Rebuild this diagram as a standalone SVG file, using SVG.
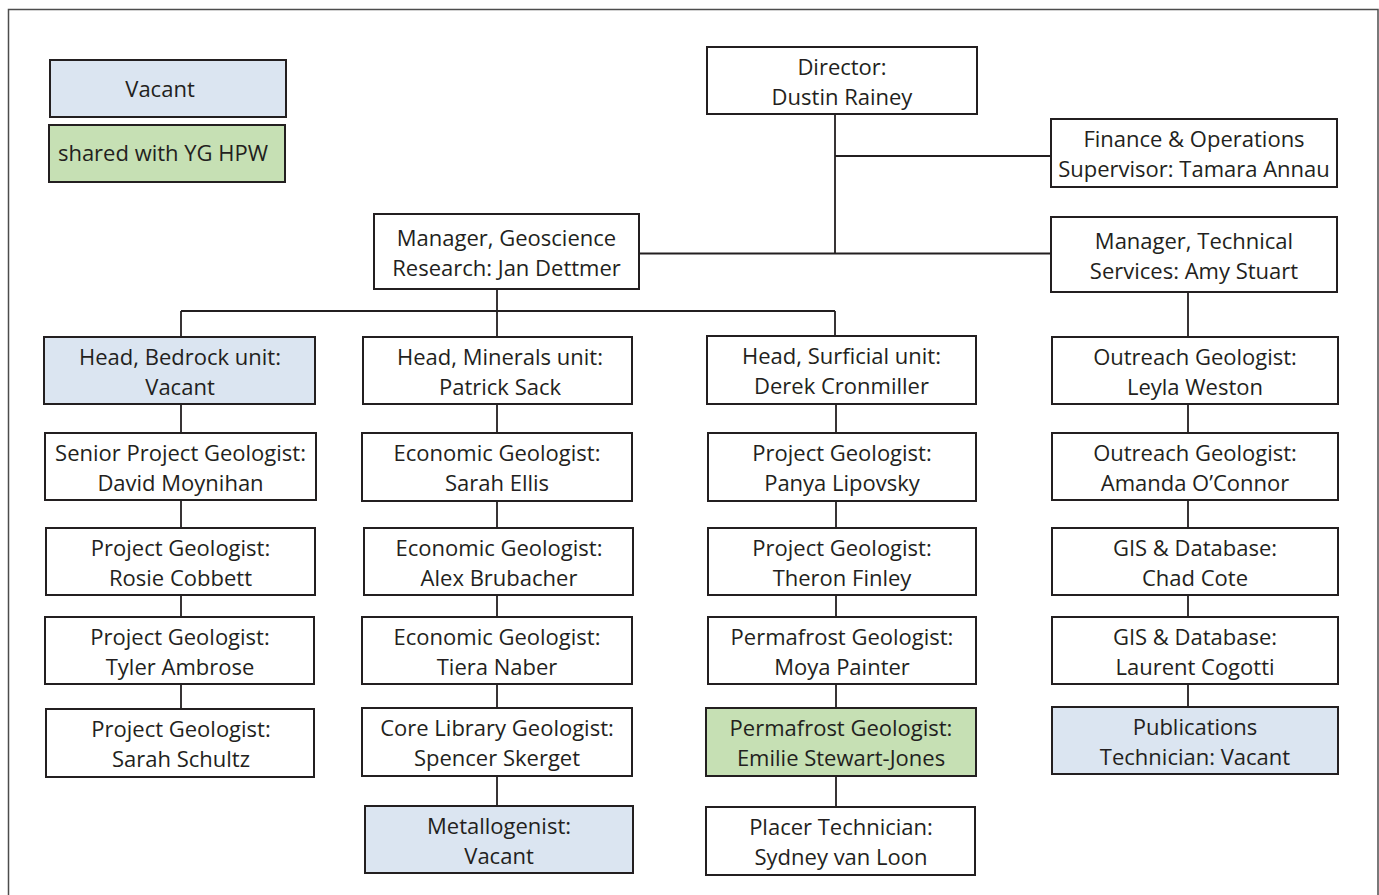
<svg xmlns="http://www.w3.org/2000/svg" width="1379" height="895" viewBox="0 0 1379 895">
<style>
.frame{fill:#ffffff;stroke:#4d4d4d;stroke-width:1.5}
.box{fill:#ffffff;stroke:#231f20;stroke-width:2}
.vac{fill:#dbe5f1;stroke:#231f20;stroke-width:2}
.shr{fill:#c6e0b4;stroke:#231f20;stroke-width:2}
.t{font-family:"Open Sans","Noto Sans","Liberation Sans",sans-serif;font-size:22px;fill:#231f20;text-anchor:middle}
.ln{fill:none;stroke:#231f20;stroke-width:1.8}
</style>
<rect class="frame" x="8.5" y="9.5" width="1369.5" height="900"/>
<g id="connectors">
<path class="ln" d="M835 114V254M835 156H1051M639 253.5H1051"/>
<path class="ln" d="M497 289V311M181 311H835M181 311V337M497 311V337M835 311V336"/>
<path class="ln" d="M181 404V433M181 500V528M181 595V617M181 684V709"/>
<path class="ln" d="M497 404V433M497 501V528M497 595V617M497 684V708M497 776V806"/>
<path class="ln" d="M836 404V433M836 501V528M836 595V617M836 684V708M836 776V807"/>
<path class="ln" d="M1188 292V337M1188 404V433M1188 500V528M1188 595V617M1188 684V707"/>
</g>
<g id="legend-vacant"><rect class="vac" x="50" y="60" width="236" height="57"/><text class="t" x="160" y="97">Vacant</text></g>
<g id="legend-shared"><rect class="shr" x="49" y="125" width="236" height="57"/><text class="t" x="163" y="161">shared with YG HPW</text></g>
<g id="director"><rect class="box" x="707" y="47" width="270" height="67"/><text class="t" x="842" y="74.5">Director:</text><text class="t" x="842" y="104.5">Dustin Rainey</text></g>
<g id="finance"><rect class="box" x="1051" y="119" width="286" height="68"/><text class="t" x="1194" y="147">Finance &amp; Operations</text><text class="t" x="1194" y="177">Supervisor: Tamara Annau</text></g>
<g id="mgr-technical"><rect class="box" x="1051" y="217" width="286" height="75"/><text class="t" x="1194" y="248.5">Manager, Technical</text><text class="t" x="1194" y="278.5">Services: Amy Stuart</text></g>
<g id="mgr-geoscience"><rect class="box" x="374" y="214" width="265" height="75"/><text class="t" x="506.5" y="245.5">Manager, Geoscience</text><text class="t" x="506.5" y="275.5">Research: Jan Dettmer</text></g>
<g id="head-bedrock"><rect class="vac" x="44" y="337" width="271" height="67"/><text class="t" x="180" y="364.5">Head, Bedrock unit:</text><text class="t" x="180" y="394.5">Vacant</text></g>
<g id="moynihan"><rect class="box" x="45" y="433" width="271" height="67"/><text class="t" x="180.5" y="460.5">Senior Project Geologist:</text><text class="t" x="180.5" y="490.5">David Moynihan</text></g>
<g id="cobbett"><rect class="box" x="46" y="528" width="269" height="67"/><text class="t" x="180.5" y="555.5">Project Geologist:</text><text class="t" x="180.5" y="585.5">Rosie Cobbett</text></g>
<g id="ambrose"><rect class="box" x="45" y="617" width="269" height="67"/><text class="t" x="180" y="644.5">Project Geologist:</text><text class="t" x="180" y="674.5">Tyler Ambrose</text></g>
<g id="schultz"><rect class="box" x="46" y="709" width="268" height="68"/><text class="t" x="181" y="737">Project Geologist:</text><text class="t" x="181" y="767">Sarah Schultz</text></g>
<g id="head-minerals"><rect class="box" x="363" y="337" width="269" height="67"/><text class="t" x="500" y="364.5">Head, Minerals unit:</text><text class="t" x="500" y="394.5">Patrick Sack</text></g>
<g id="ellis"><rect class="box" x="362" y="433" width="270" height="68"/><text class="t" x="497" y="461">Economic Geologist:</text><text class="t" x="497" y="491">Sarah Ellis</text></g>
<g id="brubacher"><rect class="box" x="364" y="528" width="269" height="67"/><text class="t" x="499" y="555.5">Economic Geologist:</text><text class="t" x="499" y="585.5">Alex Brubacher</text></g>
<g id="naber"><rect class="box" x="362" y="617" width="270" height="67"/><text class="t" x="497" y="644.5">Economic Geologist:</text><text class="t" x="497" y="674.5">Tiera Naber</text></g>
<g id="skerget"><rect class="box" x="362" y="708" width="270" height="68"/><text class="t" x="497" y="736">Core Library Geologist:</text><text class="t" x="497" y="766">Spencer Skerget</text></g>
<g id="metallogenist"><rect class="vac" x="365" y="806" width="268" height="67"/><text class="t" x="499" y="833.5">Metallogenist:</text><text class="t" x="499" y="863.5">Vacant</text></g>
<g id="head-surficial"><rect class="box" x="707" y="336" width="269" height="68"/><text class="t" x="841.5" y="364">Head, Surficial unit:</text><text class="t" x="841.5" y="394">Derek Cronmiller</text></g>
<g id="lipovsky"><rect class="box" x="708" y="433" width="268" height="68"/><text class="t" x="842" y="461">Project Geologist:</text><text class="t" x="842" y="491">Panya Lipovsky</text></g>
<g id="finley"><rect class="box" x="708" y="528" width="268" height="67"/><text class="t" x="842" y="555.5">Project Geologist:</text><text class="t" x="842" y="585.5">Theron Finley</text></g>
<g id="painter"><rect class="box" x="708" y="617" width="268" height="67"/><text class="t" x="842" y="644.5">Permafrost Geologist:</text><text class="t" x="842" y="674.5">Moya Painter</text></g>
<g id="stewart-jones"><rect class="shr" x="706" y="708" width="270" height="68"/><text class="t" x="841" y="736">Permafrost Geologist:</text><text class="t" x="841" y="766">Emilie Stewart-Jones</text></g>
<g id="van-loon"><rect class="box" x="706" y="807" width="269" height="68"/><text class="t" x="841" y="835">Placer Technician:</text><text class="t" x="841" y="865">Sydney van Loon</text></g>
<g id="weston"><rect class="box" x="1052" y="337" width="286" height="67"/><text class="t" x="1195" y="364.5">Outreach Geologist:</text><text class="t" x="1195" y="394.5">Leyla Weston</text></g>
<g id="oconnor"><rect class="box" x="1052" y="433" width="286" height="67"/><text class="t" x="1195" y="460.5">Outreach Geologist:</text><text class="t" x="1195" y="490.5">Amanda O’Connor</text></g>
<g id="cote"><rect class="box" x="1052" y="528" width="286" height="67"/><text class="t" x="1195" y="555.5">GIS &amp; Database:</text><text class="t" x="1195" y="585.5">Chad Cote</text></g>
<g id="cogotti"><rect class="box" x="1052" y="617" width="286" height="67"/><text class="t" x="1195" y="644.5">GIS &amp; Database:</text><text class="t" x="1195" y="674.5">Laurent Cogotti</text></g>
<g id="publications"><rect class="vac" x="1052" y="707" width="286" height="67"/><text class="t" x="1195" y="734.5">Publications</text><text class="t" x="1195" y="764.5">Technician: Vacant</text></g>
</svg>
